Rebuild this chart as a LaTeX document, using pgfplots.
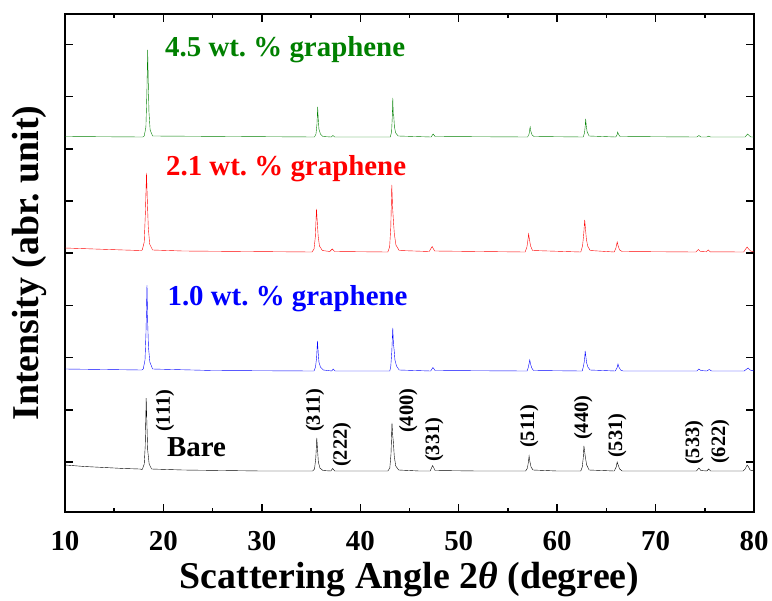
\documentclass[border=0pt]{standalone}
\usepackage{fontspec}
\setmainfont{Liberation Serif}
\usepackage{pgfplots}
\pgfplotsset{compat=1.18}
\definecolor{dgreen}{RGB}{0,128,0}
\frenchspacing
\begin{document}
\begin{tikzpicture}
\begin{axis}[
 scale only axis, width=689bp, height=498bp,
 xmin=10, xmax=80, ymin=0, ymax=498,
 xtick={10,20,...,80}, minor x tick num=1,
 ytick={50,102.2,154.4,206.6,258.8,311,363.2,415.4,467.6}, yticklabels={},
 tick align=inside, major tick length=8bp, minor tick length=4bp,
 axis line style={line width=2bp},
 tick style={line width=1.5bp, black},
 tick label style={font=\fontsize{29}{34}\selectfont\bfseries},
 xticklabel shift=16bp,
 /pgf/number format/assume math mode=true,
 xlabel={Scattering Angle 2\textit{θ} (degree)},
 ylabel={Intensity (abr. unit)},
 label style={font=\fontsize{38}{44}\selectfont\bfseries},
 xlabel style={yshift=-4bp},
 ylabel style={yshift=8bp},
 every plot/.style={line width=1.8bp},
]
% Bare
\addplot[black] coordinates {
(10,47) (12,45.5) (14,44.5) (16,43.5) (17.6,43)
(17.85,42.5) (18.05,48) (18.15,66) (18.25,114) (18.33,85) (18.4,62) (18.55,48) (18.8,43)
(22,42) (26,41.5) (30,41) (33,41) (35.15,41)
(35.35,43) (35.48,54) (35.58,74) (35.66,62) (35.74,50) (35.9,44) (36.2,41.5)
(37.0,41) (37.2,43.5) (37.4,41)
(40,41) (42.8,41)
(43.0,44) (43.12,58) (43.22,89) (43.3,76) (43.36,70) (43.45,56) (43.6,46) (43.9,42)
(46,41) (47.1,41) (47.35,46.5) (47.6,41.5)
(52,41) (56.8,41)
(56.98,44) (57.08,50) (57.15,56) (57.24,50) (57.35,45) (57.55,42)
(60,41) (62.4,41)
(62.55,45) (62.65,54) (62.72,66) (62.8,60) (62.88,54) (63.0,47) (63.25,42)
(65.8,41) (66.0,45) (66.1,50) (66.2,47) (66.35,43) (66.6,41)
(70,41) (74.15,41) (74.4,44) (74.6,41.5) (75.2,41) (75.4,43) (75.6,41) (78.9,41)
(79.1,43) (79.3,47) (79.45,45) (79.6,42) (80,41)
};
% 1.0 wt%
\addplot[blue] coordinates {
(10,143) (14,142.5) (17.8,142)
(17.95,143) (18.13,152) (18.23,180) (18.33,227) (18.4,190) (18.48,165) (18.62,150) (18.9,143)
(25,141.5) (35.3,141)
(35.45,145) (35.56,154) (35.65,171) (35.72,160) (35.8,150) (35.95,145) (36.25,142)
(37.1,141) (37.25,143) (37.45,141)
(43.0,141)
(43.1,146) (43.2,160) (43.3,184) (43.37,168) (43.44,162) (43.52,152) (43.68,146) (43.95,142)
(47.15,141) (47.38,144.5) (47.6,141.5)
(56.95,141) (57.08,145) (57.16,149) (57.22,152) (57.3,148) (57.42,144) (57.6,141.5)
(62.55,141) (62.68,146) (62.78,152) (62.85,161) (62.92,155) (63.0,149) (63.12,145) (63.35,142)
(65.9,141) (66.08,144) (66.18,148) (66.27,145) (66.45,142) (66.7,141)
(74.2,141) (74.4,143) (74.6,141.5) (75.2,141) (75.45,142.5) (75.7,141) (79.0,141) (79.4,144) (79.6,142) (80,141)
};
% 2.1 wt%
\addplot[red] coordinates {
(10,264) (13,263) (16,262) (17.7,261.5)
(17.85,262) (18.05,270) (18.17,300) (18.28,339) (18.37,310) (18.46,285) (18.6,268) (18.9,262)
(22,261) (35.1,260)
(35.3,263) (35.43,275) (35.55,303) (35.63,290) (35.72,276) (35.85,266) (36.15,261.5)
(36.9,260.5) (37.15,263) (37.4,260.5)
(42.8,260)
(42.98,265) (43.1,285) (43.2,327) (43.28,305) (43.36,292) (43.46,278) (43.62,267) (43.95,261.5)
(47.0,260.5) (47.3,265.5) (47.55,261)
(56.75,260) (56.93,265) (57.03,272) (57.1,278) (57.18,273) (57.3,266) (57.5,261.5)
(62.4,260) (62.58,266) (62.7,278) (62.8,292) (62.88,283) (62.97,273) (63.1,266) (63.35,261.5)
(65.8,260) (65.97,264) (66.1,270) (66.2,266) (66.35,262) (66.6,260.5)
(74.1,260) (74.35,262.5) (74.55,260.5) (75.15,260.2) (75.35,262) (75.55,260.2) (78.95,260)
(79.15,263) (79.3,265) (79.45,263) (79.65,261) (80,260)
};
% 4.5 wt%
\addplot[dgreen] coordinates {
(10,375.5) (17.9,375)
(18.05,376) (18.22,385) (18.32,420) (18.4,462) (18.46,430) (18.53,400) (18.65,382) (18.9,376)
(35.35,375)
(35.5,378) (35.6,388) (35.67,405) (35.73,393) (35.8,383) (35.95,378) (36.2,375.5)
(37.05,375) (37.22,376.5) (37.4,375)
(43.05,375)
(43.18,380) (43.25,395) (43.3,414) (43.35,398) (43.4,396) (43.47,385) (43.6,379) (43.85,376)
(47.2,375) (47.4,378) (47.6,375.5)
(57.0,375) (57.15,378) (57.22,383) (57.26,385) (57.32,381) (57.45,377) (57.65,375.5)
(62.65,375) (62.78,379) (62.85,386) (62.9,393) (62.96,386) (63.05,380) (63.25,376)
(65.95,375) (66.08,377) (66.15,380) (66.24,377.5) (66.4,375.5)
(74.2,375) (74.4,376.5) (74.6,375) (75.2,375) (75.4,375.8) (75.6,375) (79.1,375) (79.35,378) (79.5,376.5) (79.7,375) (80,375)
};
\begin{scope}[every node/.style={inner sep=0pt, font=\fontsize{29}{34}\selectfont\bfseries}]
\node[anchor=base west, text=dgreen] at (axis cs:20.16,456) {4.5 wt. \% graphene};
\node[anchor=base west, text=red] at (axis cs:20.26,337) {2.1 wt. \% graphene};
\node[anchor=base west, text=blue] at (axis cs:20.4,207) {1.0 wt. \% graphene};
\node[anchor=base west, text=black] at (axis cs:20.36,56) {Bare};
\end{scope}
\begin{scope}[every node/.style={inner sep=0pt, rotate=90, anchor=west, font=\fontsize{20.5}{24}\selectfont\bfseries}]
\node at (axis cs:20.16,80) {(111)};
\node at (axis cs:35.4,80) {(311)};
\node at (axis cs:38.15,45) {(222)};
\node at (axis cs:44.86,79) {(400)};
\node at (axis cs:47.5,50) {(331)};
\node at (axis cs:57.15,64) {(511)};
\node at (axis cs:62.64,72) {(440)};
\node at (axis cs:66.1,54) {(531)};
\node at (axis cs:73.92,47) {(533)};
\node at (axis cs:76.57,48) {(622)};
\end{scope}
\end{axis}
\path ([xshift=-65bp,yshift=-87bp]current axis.south west) rectangle ([xshift=18bp,yshift=14bp]current axis.north east);
\end{tikzpicture}
\end{document}
